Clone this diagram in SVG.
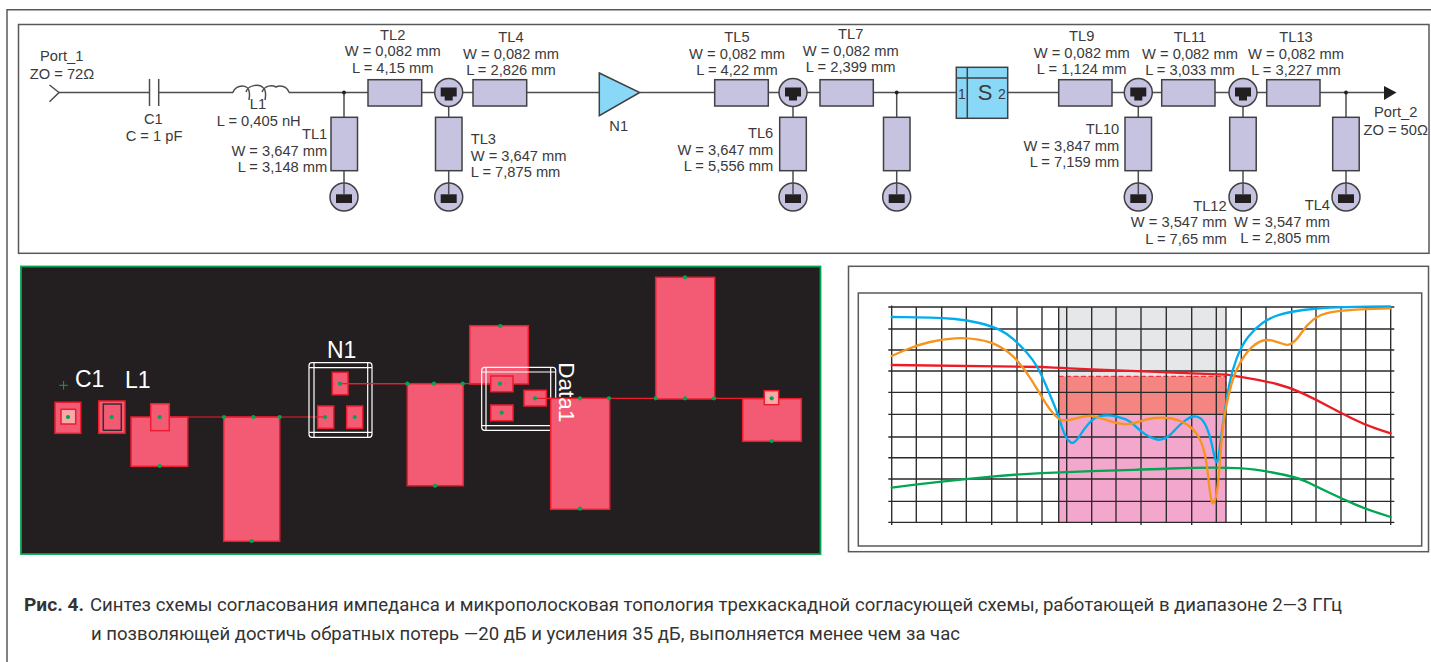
<svg xmlns="http://www.w3.org/2000/svg" xmlns:xlink="http://www.w3.org/1999/xlink" width="1431" height="662" viewBox="0 0 1431 662">
<style>
.t{font-family:"Liberation Sans",Arial,sans-serif;font-size:14.7px;fill:#3a3a3c}
.m{text-anchor:middle}.e{text-anchor:end}
.w{fill:none;stroke:#4d4d4f;stroke-width:1.5}
.tl{fill:#c5c3e0;stroke:#414042;stroke-width:1.5}
.v{fill:#c5c3e0;stroke:#414042;stroke-width:1.5}
.k{fill:#231f20}
.blue{fill:#8ad8f8;stroke:#414042;stroke-width:1.5}
.f{fill:none;stroke:#58595b;stroke-width:1.5}
.p{fill:#f25b73;stroke:#ed1c2e;stroke-width:1.5}
.q{fill:#f8a9a9;stroke:#ed1c2e;stroke-width:1.5}
.d{fill:#00a651}
.r{fill:none;stroke:#ed1c2e;stroke-width:1.2}
.b{fill:none;stroke:#fff;stroke-width:1.2}
.l{font-family:"Liberation Sans",Arial,sans-serif;font-size:23px;fill:#fff}
.g{stroke:#2b2a2b;stroke-width:1.35;fill:none}
.c{fill:none;stroke-width:7;stroke-linejoin:round;stroke-linecap:round}
.cap{font-family:Roboto,"Noto Sans",sans-serif;font-size:19px;fill:#333}
</style>
<defs>
<g id="via"><circle r="14" class="v"/><path class="k" d="M-8 -5H8V4H4V8H-4V4H-8Z"/></g>
<g id="gnd"><circle r="14" class="v"/><rect class="k" x="-8" y="-2.7" width="16" height="8.7"/><path d="M0 -14V-2" class="w"/></g>
</defs>
<rect width="1431" height="662" fill="#fff"/>
<path class="f" d="M7 662V9.7H1431"/>
<rect x="18.5" y="24.5" width="1410.500" height="228.800" class="f"/>

<g id="connectors">
<path class="w" d="M59 92.500H149.500M158.700 92.500H233M289 92.500H368M421.700 92.500H434.700M462.700 92.500H473M526.700 92.500H599.300M639.700 92.500H714.700M768.300 92.500H779M807 92.500H820M873.300 92.500H956.300M1007.700 92.500H1058.700M1112 92.500H1124.300M1152.300 92.500H1161.700M1215 92.500H1229M1257 92.500H1266.700M1320 92.500H1386"/>
<path class="w" d="M344 92.500V117.300M344 170.700V183M448.700 106.500V117.300M448.700 170.700V183M793 106.500V117.300M793 170.700V183M896.700 92.500V117.300M896.700 170.700V183M1138.300 106.500V117.300M1138.300 170.700V183M1243 106.500V117.300M1243 170.700V183M1346 92.500V117.300M1346 170.700V183"/>
<circle cx="344" cy="92.500" r="1.900" class="k"/><circle cx="896.700" cy="92.500" r="1.900" class="k"/><circle cx="1346" cy="92.500" r="1.900" class="k"/>
</g>

<g id="Port_1"><path class="w" d="M49.500 85L59 92.500L49.500 101.700"/><text class="t m" x="61.700" y="60.700">Port_1</text><text class="t m" x="62" y="79.300">ZO = 72Ω</text></g>
<g id="C1"><path class="w" d="M149.500 79V106M158.700 79V106"/><text class="t m" x="153.300" y="124.300">C1</text><text class="t m" x="154" y="140.700">C = 1 pF</text></g>
<g id="L1"><path class="w" d="M233 92.500C235 86 243 84.500 247 87.500C250 90 250 94 249 100M246 92C248 85 259 83.500 263 87.500C266 90 266 95 265 100M262 92C265 85 272 85 276 87C280 85 287 86 289 92.500"/><text class="t m" x="258" y="109.300">L1</text><text class="t m" x="258.700" y="126">L = 0,405 nH</text></g>
<g id="TL1"><rect class="tl" x="331" y="117.300" width="26.500" height="53.400"/><use href="#gnd" x="344" y="197"/><text class="t e" x="327.300" y="139.300">TL1</text><text class="t e" x="327.300" y="156">W = 3,647 mm</text><text class="t e" x="327.300" y="172.300">L = 3,148 mm</text></g>
<g id="TL2"><rect class="tl" x="368" y="79.700" width="53.700" height="26.300"/><text class="t m" x="392.700" y="40">TL2</text><text class="t m" x="392.700" y="56">W = 0,082 mm</text><text class="t m" x="392.700" y="72.700">L = 4,15 mm</text></g>
<g id="via1"><use href="#via" x="448.700" y="92.500"/></g>
<g id="TL3"><rect class="tl" x="435.500" y="117.300" width="26.500" height="53.400"/><use href="#gnd" x="448.700" y="197"/><text class="t" x="470.700" y="144">TL3</text><text class="t" x="470.700" y="160.700">W = 3,647 mm</text><text class="t" x="470.700" y="177.300">L = 7,875 mm</text></g>
<g id="TL4a"><rect class="tl" x="473" y="79.700" width="53.700" height="26.300"/><text class="t m" x="511" y="42">TL4</text><text class="t m" x="511" y="58.700">W = 0,082 mm</text><text class="t m" x="511" y="75">L = 2,826 mm</text></g>
<g id="N1"><path class="blue" d="M599.300 73L639.700 92.500L599.300 115.700Z"/><text class="t m" x="618.700" y="130.700">N1</text></g>
<g id="TL5"><rect class="tl" x="714.700" y="79.700" width="53.600" height="26.300"/><text class="t m" x="737" y="42">TL5</text><text class="t m" x="737" y="58.700">W = 0,082 mm</text><text class="t m" x="737" y="75">L = 4,22 mm</text></g>
<g id="via2"><use href="#via" x="793" y="92.500"/></g>
<g id="TL6"><rect class="tl" x="779.700" y="117.300" width="26.600" height="53.400"/><use href="#gnd" x="793" y="197"/><text class="t e" x="773.300" y="138.300">TL6</text><text class="t e" x="773.300" y="154.700">W = 3,647 mm</text><text class="t e" x="773.300" y="171.300">L = 5,556 mm</text></g>
<g id="TL7"><rect class="tl" x="820" y="79.700" width="53.300" height="26.300"/><text class="t m" x="850.700" y="39.300">TL7</text><text class="t m" x="850.700" y="56">W = 0,082 mm</text><text class="t m" x="850.700" y="72.300">L = 2,399 mm</text></g>
<g id="TL8"><rect class="tl" x="883.500" y="117.300" width="26.500" height="53.400"/><use href="#gnd" x="896.700" y="197"/></g>
<g id="S"><rect class="blue" x="956.300" y="67.300" width="51.400" height="51"/><path class="w" style="stroke:#414042" d="M967.300 67.300V118.300M956.300 78H1007.700"/><text class="t m" x="962" y="99" style="font-size:14px">1</text><text class="t m" x="985" y="100" style="font-size:22px">S</text><text class="t m" x="1002" y="98.700" style="font-size:14px">2</text></g>
<g id="TL9"><rect class="tl" x="1058.700" y="79.700" width="53.300" height="26.300"/><text class="t m" x="1081.700" y="41">TL9</text><text class="t m" x="1081.700" y="57.700">W = 0,082 mm</text><text class="t m" x="1081.700" y="74">L = 1,124 mm</text></g>
<g id="via3"><use href="#via" x="1138.300" y="92.500"/></g>
<g id="TL10"><rect class="tl" x="1125" y="117.300" width="26.500" height="53.400"/><use href="#gnd" x="1138.300" y="197"/><text class="t e" x="1119.300" y="134.300">TL10</text><text class="t e" x="1119.300" y="151">W = 3,847 mm</text><text class="t e" x="1119.300" y="167.300">L = 7,159 mm</text></g>
<g id="TL11"><rect class="tl" x="1161.700" y="79.700" width="53.300" height="26.300"/><text class="t m" x="1190" y="42">TL11</text><text class="t m" x="1190" y="58.700">W = 0,082 mm</text><text class="t m" x="1190" y="75">L = 3,033 mm</text></g>
<g id="via4"><use href="#via" x="1243" y="92.500"/></g>
<g id="TL12"><rect class="tl" x="1229.700" y="117.300" width="26.500" height="53.400"/><use href="#gnd" x="1243" y="197"/><text class="t e" x="1226.700" y="211">TL12</text><text class="t e" x="1226.700" y="227.300">W = 3,547 mm</text><text class="t e" x="1226.700" y="244.300">L = 7,65 mm</text></g>
<g id="TL13"><rect class="tl" x="1266.700" y="79.700" width="53.300" height="26.300"/><text class="t m" x="1296" y="42">TL13</text><text class="t m" x="1296" y="59">W = 0,082 mm</text><text class="t m" x="1296" y="75">L = 3,227 mm</text></g>
<g id="TL4b"><rect class="tl" x="1332.700" y="117.300" width="26.500" height="53.400"/><use href="#gnd" x="1346" y="197"/><text class="t e" x="1330" y="210">TL4</text><text class="t e" x="1330" y="226.700">W = 3,547 mm</text><text class="t e" x="1330" y="242.700">L = 2,805 mm</text></g>
<g id="Port_2"><path class="k" d="M1384 86L1396.500 92.500L1384 100Z"/><text class="t m" x="1395.700" y="116.700">Port_2</text><text class="t m" x="1395.700" y="135">ZO = 50Ω</text></g>

<g id="layout">
<rect x="21" y="266.500" width="799.500" height="287.500" fill="#231f20" stroke="#00a651" stroke-width="1.800"/>
<path d="M59.300 385.300h8.600M63.600 381v8.600" stroke="#00a651" stroke-width="1"/>
<text class="l" x="75" y="386.700">C1</text><text class="l" x="125" y="388.300">L1</text><text class="l" x="327" y="358.300">N1</text>
<rect class="p" x="55" y="402.300" width="25.700" height="31"/><rect class="q" x="61" y="409.300" width="14.700" height="14.700"/>
<rect class="p" x="98.700" y="401" width="26.300" height="32.300"/><rect x="103.300" y="404" width="18" height="26.300" fill="#f25b73" stroke="#3c2a2e" stroke-width="1.500"/>
<rect class="p" x="131" y="417" width="56.700" height="49.300"/><rect class="p" x="150.700" y="403.700" width="18.600" height="27"/>
<rect class="p" x="223.700" y="417" width="56" height="124.300"/>
<path class="r" d="M169 417H325M340 383.700H407"/>
<rect class="b" x="309" y="362.700" width="63" height="74.600" rx="3"/><path class="b" d="M314 362.700V437.300M367.700 362.700V437.300M309 367.700H372M309 432.300H372"/>
<rect class="p" x="332.300" y="372.300" width="15.700" height="22.400"/><rect class="p" x="317.700" y="406" width="16" height="22.300"/><rect class="p" x="346.700" y="406" width="16" height="22.300"/>
<path class="r" d="M340 383.700H407"/><path class="r" d="M317 417H325"/>
<rect class="p" x="407.300" y="383.700" width="56" height="102"/>
<rect class="p" x="469.700" y="325.700" width="58.600" height="58.300"/>
<path class="r" d="M463 383.700H500"/>
<rect class="b" x="481.700" y="367.300" width="74" height="63" rx="3"/><path class="b" d="M486 367.300V430.300M550.700 367.300V430.300M481.700 372H555.700M481.700 425.700H555.700"/>
<rect class="p" x="490.700" y="376" width="22.300" height="15.700"/><rect class="p" x="490.700" y="405" width="22.300" height="15.700"/><rect class="p" x="524" y="390.300" width="22.300" height="15.700"/>
<rect class="p" x="550.700" y="398.300" width="59" height="111"/>
<path class="r" d="M535 398.300H552M609 398.300H656M714 398.300H765"/>
<rect class="p" x="655.700" y="277.300" width="59" height="121.700"/>
<rect class="p" x="742.700" y="398.700" width="58.600" height="42.600"/><rect class="q" x="764.300" y="390.700" width="14.400" height="14"/>
<text class="l" transform="translate(558.800 362.300) rotate(90)" style="font-size:22.500px">Data1</text>
<g class="d"><circle cx="68" cy="417" r="2.100"/><circle cx="111.700" cy="417" r="2.100"/><circle cx="159.700" cy="417" r="2.100"/><circle cx="159.700" cy="466" r="2.100"/><circle cx="224" cy="417" r="2.100"/><circle cx="253.300" cy="417" r="2.100"/><circle cx="279.700" cy="417" r="2.100"/><circle cx="251.700" cy="541" r="2.100"/><circle cx="340" cy="383.700" r="2.100"/><circle cx="325" cy="417" r="2.100"/><circle cx="354.700" cy="417" r="2.100"/><circle cx="407.300" cy="383.700" r="2.100"/><circle cx="434" cy="383.700" r="2.100"/><circle cx="462.700" cy="383.700" r="2.100"/><circle cx="435" cy="485.700" r="2.100"/><circle cx="500.300" cy="326" r="2.100"/><circle cx="500" cy="383.700" r="2.100"/><circle cx="501.700" cy="412.700" r="2.100"/><circle cx="535" cy="398.300" r="2.100"/><circle cx="580" cy="398.300" r="2.100"/><circle cx="609" cy="398.300" r="2.100"/><circle cx="580" cy="508.700" r="2.100"/><circle cx="685" cy="277.300" r="2.100"/><circle cx="655.700" cy="398.300" r="2.100"/><circle cx="685" cy="398.300" r="2.100"/><circle cx="714" cy="398.300" r="2.100"/><circle cx="771.700" cy="398.300" r="2.100"/><circle cx="771.700" cy="441" r="2.100"/></g>
</g>

<g id="chart">
<rect x="848.500" y="266.300" width="580" height="285.400" fill="#fff" stroke="#58595b" stroke-width="1.500"/>
<rect x="858.300" y="293" width="563.400" height="253" fill="#fff" stroke="#58595b" stroke-width="1.500"/>
<rect x="1058.700" y="307" width="167.300" height="69.300" fill="#e6e7e8"/>
<rect x="1058.700" y="376.300" width="167.300" height="38" fill="#f58580"/>
<rect x="1058.700" y="414.300" width="167.300" height="108" fill="#f4a7cc"/>
<path d="M1058.700 414V376.300H1226V414" fill="none" stroke="#ed1c2e" stroke-width="1" stroke-dasharray="5 2.500"/>
<path class="g" d="M888.300 307H1394.300M888.300 329H1394.300M888.300 350H1394.300M888.300 371H1394.300M888.300 392.300H1394.300M888.300 414.300H1394.300M888.300 437H1394.300M888.300 457.700H1394.300M888.300 479H1394.300M888.300 501.300H1394.300M888.300 522.300H1394.300"/>
<path class="g" d="M891.700 305.500V525M916.300 307V522.300M941.700 307V525M966.300 307V522.300M991.700 307V525M1017 307V522.300M1042 307V525M1058.700 307V522.300M1066.700 307V522.300M1091.700 307V525M1116 307V522.300M1141 307V525M1166.300 307V522.300M1191.700 307V525M1216.300 307V522.300M1226 307V522.300M1241.300 307V525M1266 307V522.300M1291.700 307V525M1316 307V522.300M1341 307V525M1365.700 307V522.300M1390.700 307V525"/>
<g transform="translate(850 265) scale(.33333)">
<path class="c" stroke="#ed1c24" d="M125 300L575 306L612 308Q650 310 725 313L900 320L1025 325L1130 329L1185 338Q1240 347 1280 357Q1320 367 1360 386Q1400 405 1435 423.500Q1470 442 1505 460Q1540 478 1581 491.500L1622 505"/>
<path class="c" stroke="#00a651" d="M125 668Q200 658 275 650Q350 642 425 635Q500 628 575 624.500Q650 621 725 618.500Q800 616 850 614.500Q900 613 962 610.500Q1025 608 1097 608Q1170 608 1215 614Q1260 620 1305 630Q1350 640 1375 652.500Q1400 665 1440 684Q1480 703 1515 718Q1550 733 1586 744.500L1622 756"/>
<path class="c" stroke="#00aeef" d="M125 156L162.500 156.500Q200 157 240 158Q280 159 315 162Q350 165 387.500 174Q425 183 447.500 194Q470 205 490 222.500Q510 240 530 262.500Q550 285 562.500 307.500Q575 330 587.500 360Q600 390 612.500 420Q625 450 632.500 475Q640 500 646 512.500Q652 525 659.500 530Q667 538 674.500 530Q682 525 691 510Q700 495 712.500 480Q725 465 735 459Q745 453 762.500 451.500Q780 450 797.500 454Q815 458 827.500 463Q840 468 855 482.500Q870 497 885 507.500Q900 518 914 521.500Q928 527 941.500 521Q955 517 972.500 497.500Q990 478 1005 467Q1020 456 1030 454.500Q1040 453 1050 459Q1060 465 1070 487.500Q1080 510 1086 540Q1092 570 1096.500 585Q1101 600 1104.500 580Q1108 560 1113 520Q1118 480 1124 440Q1130 400 1137.500 360Q1145 320 1160 280Q1175 240 1195 215Q1215 190 1237.500 174Q1260 158 1290 149Q1320 140 1360 135Q1400 130 1440 128Q1480 126 1550 125L1620 124"/>
<path class="c" stroke="#f7941d" d="M125 273L162.500 256.500Q200 240 240 231Q280 222 315 220Q350 218 385 224Q420 230 445 242.500Q470 255 490 275Q510 295 527.500 320Q545 345 560 370Q575 395 587.500 415Q600 435 612.500 448.500Q625 462 635 465Q645 468 662.500 464Q680 460 700 455Q720 450 740 456Q760 462 787.500 470.500Q815 479 832.500 477.500Q850 476 870 469Q890 462 915 459Q940 456 965 460.500Q990 465 1010 477.500Q1030 490 1042.500 510Q1055 530 1062.500 560Q1070 590 1074 630Q1078 670 1082 695Q1087 725 1092.500 710Q1098 705 1103 662.500Q1108 620 1113 550Q1118 480 1126.500 435Q1135 390 1145 355Q1155 320 1172.500 290Q1190 260 1207.500 245Q1225 230 1240 226.500Q1255 223 1270 227.500Q1285 232 1300 237Q1315 244 1327.500 233.500Q1340 225 1355 202.500Q1370 180 1390 164Q1410 148 1445 141.500Q1480 135 1550 132.500L1622 130"/>
</g>
</g>

<g id="caption">
<text class="cap" x="24" y="611" textLength="60" lengthAdjust="spacingAndGlyphs" style="font-weight:700">Рис. 4.</text>
<text class="cap" x="90" y="611" textLength="1252" lengthAdjust="spacingAndGlyphs">Синтез схемы согласования импеданса и микрополосковая топология трехкаскадной согласующей схемы, работающей в диапазоне 2—3 ГГц</text>
<text class="cap" x="91" y="640" textLength="869" lengthAdjust="spacingAndGlyphs">и позволяющей достичь обратных потерь —20 дБ и усиления 35 дБ, выполняется менее чем за час</text>
</g>
</svg>
